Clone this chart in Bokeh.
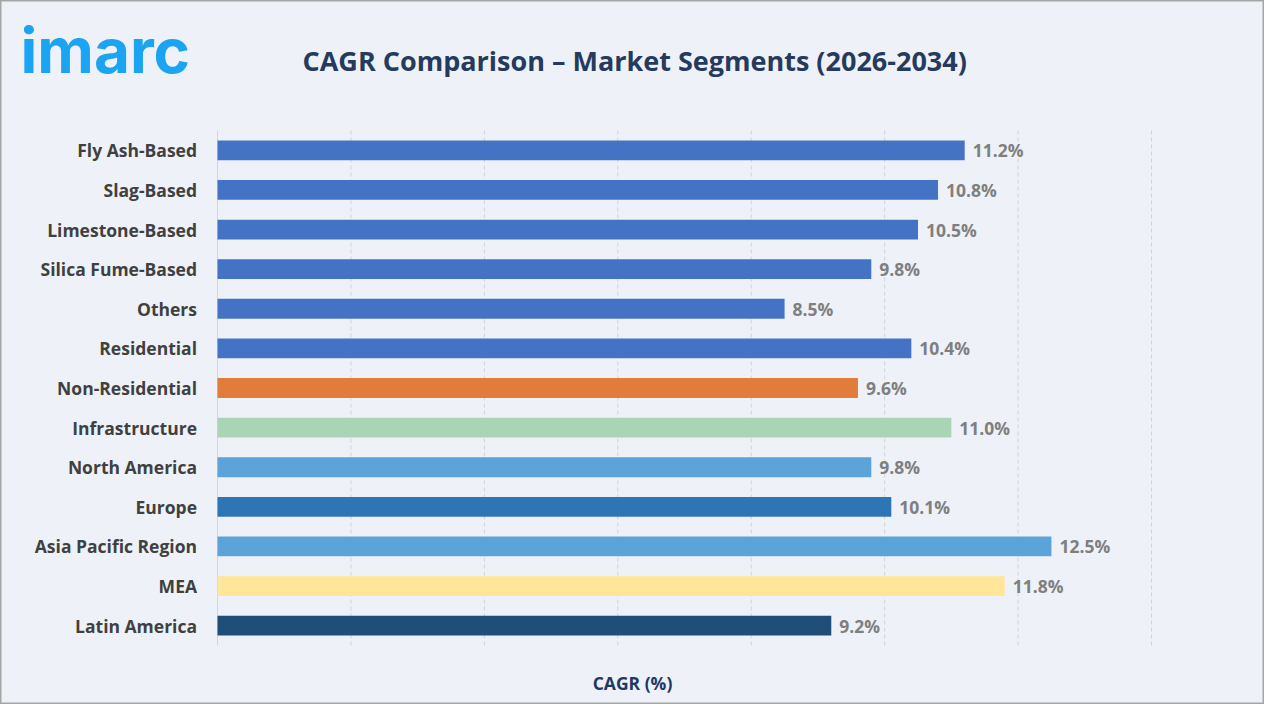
from bokeh.plotting import figure
from bokeh.models import ColumnDataSource, Range1d, Label
from bokeh.core.properties import value
from bokeh.embed import file_html
from bokeh.resources import INLINE

categories = ["Fly Ash-Based", "Slag-Based", "Limestone-Based", "Silica Fume-Based", "Others",
              "Residential", "Non-Residential", "Infrastructure", "North America", "Europe",
              "Asia Pacific Region", "MEA", "Latin America"]
values = [11.2, 10.8, 10.5, 9.8, 8.5, 10.4, 9.6, 11.0, 9.8, 10.1, 12.5, 11.8, 9.2]
colors = ["#4472c4", "#4472c4", "#4472c4", "#4472c4", "#4472c4", "#4472c4", "#e27c3a",
          "#a9d5b6", "#5ba3d9", "#2e75b6", "#5ba3d9", "#ffe699", "#1f4e79"]
value_labels = [f"{v:.1f}%" for v in values]
x_ticks = [0, 2, 4, 6, 8, 10, 12, 14]

BG = "#eef2f8"
W, H = 1264, 704
# pixel geometry of the data area (inside the full-canvas frame)
FL, FR, FT, FB = 217, 1151, 130, 645
n = len(categories)
kx = (FR - FL) / (x_ticks[-1] - x_ticks[0])
ky = (FB - FT) / n

x_range = Range1d(-FL / kx, x_ticks[-1] + (W - FR) / kx)
y_range = Range1d(-0.5 + (H - FT) / ky, -0.5 - FT / ky)

idx = list(range(n))
src = ColumnDataSource(dict(cat=categories, y=idx, val=values, color=colors, lab=value_labels,
                            zero=[0] * n))

p = figure(width=W, height=H, output_backend="svg", toolbar_location=None,
           x_range=x_range, y_range=y_range,
           min_border=0, min_border_left=0, min_border_right=0,
           min_border_top=0, min_border_bottom=0,
           background_fill_color=BG, border_fill_color=BG,
           outline_line_color="#a6a6a6", outline_line_width=2)
p.axis.visible = False
p.grid.visible = False

# vertical gridlines
grid_src = ColumnDataSource(dict(x=x_ticks[1:], y0=[-0.5] * (len(x_ticks) - 1),
                                 y1=[n - 0.5] * (len(x_ticks) - 1)))
p.segment(x0="x", x1="x", y0="y0", y1="y1", source=grid_src,
          line_color="#cfd3da", line_width=1, line_dash="4 3")
p.segment(x0=[x_ticks[0]], x1=[x_ticks[0]], y0=[-0.5], y1=[n - 0.5],
          line_color="#d3d6dc", line_width=1)

p.hbar(y="y", right="val", left="zero", height=0.5, fill_color="color", line_color=None, source=src)

# category labels
p.text(x="zero", y="y", text="cat", source=src, x_offset=-20.5,
       text_align="right", text_baseline="middle",
       text_font=value("Open Sans"), text_font_style="bold",
       text_font_size="17.5px", text_color="#404040")

# value labels
p.text(x="val", y="y", text="lab", source=src, x_offset=8,
       text_align="left", text_baseline="middle",
       text_font=value("Open Sans"), text_font_style="bold",
       text_font_size="17.5px", text_color="#7f7f7f")

p.add_layout(Label(x=302, y=644.4, x_units="screen", y_units="screen",
                   text="CAGR Comparison – Market Segments (2026-2034)",
                   text_font="Open Sans", text_font_style="bold", text_font_size="27px",
                   text_color="#263a5e", text_baseline="middle", text_align="left"))
p.add_layout(Label(x=20, y=654, x_units="screen", y_units="screen",
                   text="imarc", text_font="Inter", text_font_style="bold",
                   text_font_size="62px", text_color="#1ba4f2",
                   text_baseline="middle", text_align="left"))
p.add_layout(Label(x=632, y=21.5, x_units="screen", y_units="screen",
                   text="CAGR (%)", text_font="Open Sans", text_font_style="bold",
                   text_font_size="17.5px", text_color="#1f3864",
                   text_baseline="middle", text_align="center"))

open("out.html", "w").write(file_html(p, INLINE))
